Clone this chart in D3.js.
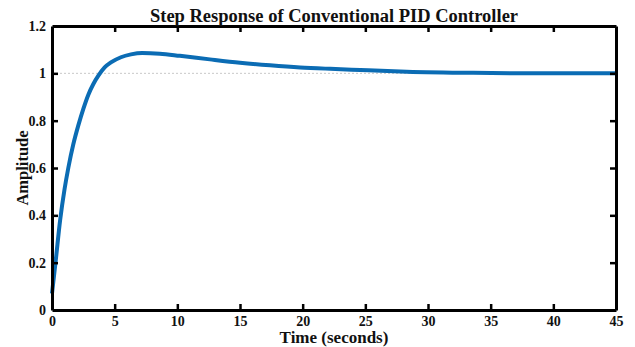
<!DOCTYPE html>
<html>
<head>
<meta charset="utf-8">
<script src="https://cdn.jsdelivr.net/npm/d3@7"></script>
<style>
  body { margin: 0; background: #fff; }
  text { font-family: "Liberation Serif", "Times New Roman", serif; font-weight: bold; fill: #111; }
</style>
</head>
<body>
<div id="chart"></div>
<script>
const MARGIN = {left: 52, right: 19, top: 26, bottom: 37};
const WIDTH = 635 - MARGIN.left - MARGIN.right;
const HEIGHT = 347 - MARGIN.top - MARGIN.bottom;

// step response
const timeValues = [0, 0.3, 0.65, 1.0, 1.3, 1.7, 2.1, 2.5, 2.9, 3.3, 3.7, 4.2, 4.7, 5.5, 6.3, 7.2, 8.6, 10.2, 12.6, 15, 17.4, 19.8, 22.2, 24.6, 28.3, 33.6, 38.9, 45];
const amplitudeValues = [0.07, 0.21, 0.38, 0.51, 0.6, 0.7, 0.78, 0.85, 0.91, 0.955, 0.99, 1.025, 1.046, 1.068, 1.08, 1.086, 1.083, 1.074, 1.059, 1.045, 1.034, 1.025, 1.019, 1.014, 1.007, 1.002, 1.0, 1.0];
const xTicks = [0, 5, 10, 15, 20, 25, 30, 35, 40, 45];
const yTicks = [0, 0.2, 0.4, 0.6, 0.8, 1, 1.2];
const referenceLevel = 1;

const data = timeValues.map((t, i) => ({t: t, a: amplitudeValues[i]}));

const svg = d3.select('#chart').append('svg')
  .attr('width', 635)
  .attr('height', 347);

const g = svg.append('g')
  .attr('transform', `translate(${MARGIN.left},${MARGIN.top})`);

const x = d3.scaleLinear().domain([0, 45]).range([0, WIDTH]);
const y = d3.scaleLinear().domain([0, 1.2]).range([HEIGHT, 0]);

// dotted reference at 1
g.append('line')
  .attr('x1', 0).attr('x2', WIDTH)
  .attr('y1', y(referenceLevel)).attr('y2', y(referenceLevel))
  .attr('stroke', '#c8c8c8')
  .attr('stroke-width', 1)
  .attr('stroke-dasharray', '2,2');

// response curve
const line = d3.line()
  .x(d => x(d.t))
  .y(d => y(d.a))
  .curve(d3.curveMonotoneX);

g.append('path')
  .datum(data)
  .attr('fill', 'none')
  .attr('stroke', '#0b6cb4')
  .attr('stroke-width', 4)
  .attr('d', line);

// axes, ticks pointing inward
const fmt = d => d3.format('~g')(d);

const xAxis = g.append('g')
  .attr('transform', `translate(0,${HEIGHT})`)
  .call(d3.axisBottom(x).tickValues(xTicks).tickSizeInner(-6).tickSizeOuter(0).tickPadding(6).tickFormat(fmt));

const yAxis = g.append('g')
  .call(d3.axisLeft(y).tickValues(yTicks).tickSizeInner(-6).tickSizeOuter(0).tickPadding(6).tickFormat(fmt));

const xTop = g.append('g')
  .call(d3.axisTop(x).tickValues(xTicks).tickSizeInner(-6).tickSizeOuter(0).tickFormat(''));

const yRight = g.append('g')
  .attr('transform', `translate(${WIDTH},0)`)
  .call(d3.axisRight(y).tickValues(yTicks).tickSizeInner(-6).tickSizeOuter(0).tickFormat(''));

[xAxis, yAxis, xTop, yRight].forEach(a => {
  a.select('.domain').attr('stroke', '#000').attr('stroke-width', 3);
  a.selectAll('.tick line').attr('stroke', '#000').attr('stroke-width', 2.5);
  a.selectAll('.tick text').attr('font-size', '14px').attr('font-family', null).attr('fill', '#111');
});

// end ticks sit on the frame
xTop.selectAll('.tick').filter(d => d === 0 || d === 45).remove();
yRight.selectAll('.tick').filter(d => d === 0 || d === 1.2).remove();
xAxis.selectAll('.tick line').filter(d => d === 0 || d === 45).remove();
yAxis.selectAll('.tick line').filter(d => d === 0 || d === 1.2).remove();

// title and labels
svg.append('text')
  .attr('x', MARGIN.left + WIDTH / 2)
  .attr('y', 22)
  .attr('text-anchor', 'middle')
  .attr('font-size', '18.5px')
  .text('Step Response of Conventional PID Controller');

svg.append('text')
  .attr('x', MARGIN.left + WIDTH / 2)
  .attr('y', 343)
  .attr('text-anchor', 'middle')
  .attr('font-size', '17px')
  .text('Time (seconds)');

svg.append('text')
  .attr('transform', `translate(28,${MARGIN.top + HEIGHT / 2}) rotate(-90)`)
  .attr('text-anchor', 'middle')
  .attr('font-size', '16.5px')
  .text('Amplitude');
</script>
</body>
</html>
